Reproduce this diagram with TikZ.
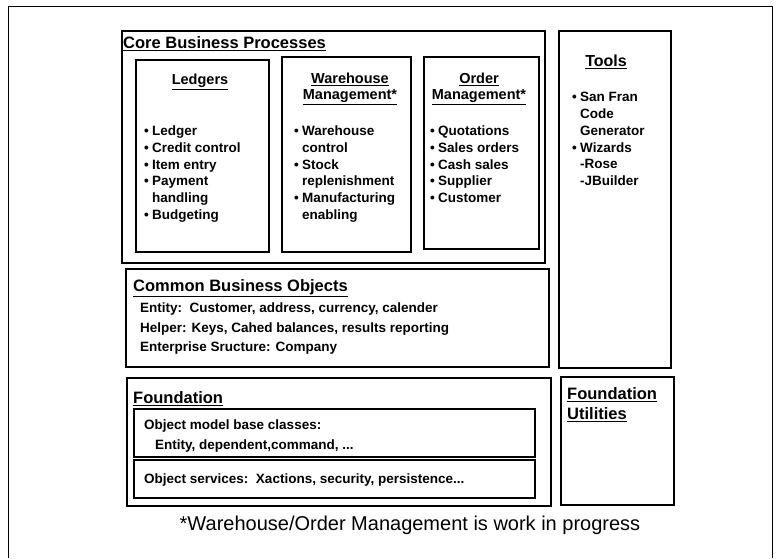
\documentclass[tikz,border=0pt]{standalone}
\usepackage{fontspec}
\setmainfont{Liberation Sans}
\newcommand{\bul}{\makebox[8pt][l]{\textbullet}}
\newcommand{\ind}{\hspace*{8pt}}
\tikzset{
  box/.style={draw, line width=2.4pt},
  subbox/.style={draw, line width=1.8pt},
  bighead/.style={inner sep=0pt, anchor=west, font=\fontsize{16.5}{20}\selectfont\bfseries},
  subhead/.style={inner sep=0pt, align=center, font=\fontsize{14.5}{16.5}\selectfont\bfseries},
  items/.style={inner sep=0pt, anchor=north west, align=left, font=\fontsize{13.5}{16.8}\selectfont\bfseries},
  wideitems/.style={items, font=\fontsize{13.5}{19.5}\selectfont\bfseries},
}
\begin{document}
\begin{tikzpicture}[x=1pt, y=-1pt]
  \useasboundingbox (0,0) rectangle (777,558);
  \draw[line width=1pt] (8,558) -- (8,6) -- (772,6) -- (772,558);

  % boxes
  \draw[box] (122,31) rectangle (545,263);
  \draw[box] (136,60) rectangle (269,252);
  \draw[box] (282,57) rectangle (411,252);
  \draw[box] (424,57) rectangle (539,249);
  \draw[box] (559,31) rectangle (671,368);
  \draw[box] (126,269) rectangle (549,367);
  \draw[box] (127,378) rectangle (551,506);
  \draw[subbox] (134,409) rectangle (535,457);
  \draw[subbox] (134,460) rectangle (535,498);
  \draw[box] (561,377) rectangle (674,505);

  % core business processes
  \node[bighead] (core) at (123,44) {\underline{Core Business Processes}};
  \node[subhead] (ledgers) at (200,82) {\underline{Ledgers}};
  \node[subhead] (warehouse) at (350,89) {\underline{Warehouse}\\\underline{Management*}};
  \node[subhead] (order) at (479,89) {\underline{Order}\\\underline{Management*}};
  \node[items] (ledgitems) at (144,125.6)
    {\bul Ledger\\\bul Credit control\\\bul Item entry\\\bul Payment\\\ind handling\\\bul Budgeting};
  \node[items] (wareitems) at (294,125.6)
    {\bul Warehouse\\\ind control\\\bul Stock\\\ind replenishment\\\bul Manufacturing\\\ind enabling};
  \node[items] (orderitems) at (430,125.6)
    {\bul Quotations\\\bul Sales orders\\\bul Cash sales\\\bul Supplier\\\bul Customer};

  % tools
  \node[bighead, anchor=center, font=\fontsize{16}{19}\selectfont\bfseries] (tools) at (606,62) {\underline{Tools}};
  \node[items] (toolitems) at (572,92)
    {\bul San Fran\\\ind Code\\\ind Generator\\\bul Wizards\\\ind -Rose\\\ind -JBuilder};

  % common business objects
  \node[bighead] (cbo) at (133,288) {\underline{Common Business Objects}};
  \node[wideitems] (cboitems) at (140,303)
    {Entity:\ \ Customer, address, currency, calender\\Helper: Keys, Cahed balances, results reporting\\Enterprise Sructure: Company};

  % foundation
  \node[bighead] (found) at (133,398.6) {\underline{Foundation}};
  \node[wideitems, font=\fontsize{13.5}{20}\selectfont\bfseries] (model) at (144,420)
    {Object model base classes:\\\hspace*{11pt}Entity, dependent,command, ...};
  \node[items, anchor=west] (services) at (144,480) {Object services:\ \ Xactions, security, persistence...};
  \node[bighead, anchor=north west, align=left] (utils) at (567,387)
    {\underline{Foundation}\\\underline{Utilities}};

  \node[font=\fontsize{20}{23}\selectfont] (note) at (410,525) {*Warehouse/Order Management is work in progress};
\end{tikzpicture}
\end{document}
